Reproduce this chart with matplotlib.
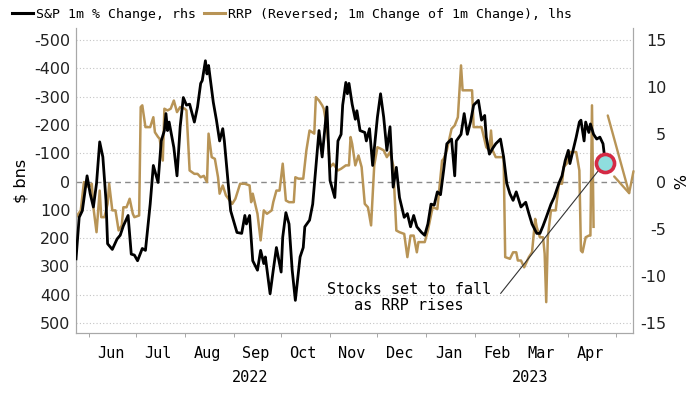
import pandas as pd
import matplotlib.pyplot as plt
import matplotlib.dates as mdates
from matplotlib.lines import Line2D

plt.rcParams['axes.unicode_minus'] = False

# S&P 500 1m % change (rhs)
spx_dates = [
    "2022-05-24", "2022-05-26", "2022-05-28", "2022-05-31", "2022-06-02", "2022-06-04",
    "2022-06-06", "2022-06-08", "2022-06-10", "2022-06-12", "2022-06-13", "2022-06-16",
    "2022-06-19", "2022-06-21", "2022-06-23", "2022-06-26", "2022-06-28", "2022-06-30",
    "2022-07-02", "2022-07-05", "2022-07-07", "2022-07-10", "2022-07-12", "2022-07-15",
    "2022-07-17", "2022-07-19", "2022-07-20", "2022-07-21", "2022-07-22", "2022-07-25",
    "2022-07-27", "2022-07-29", "2022-07-31", "2022-08-02", "2022-08-04", "2022-08-07",
    "2022-08-09", "2022-08-11", "2022-08-12", "2022-08-14", "2022-08-15", "2022-08-16",
    "2022-08-19", "2022-08-21", "2022-08-23", "2022-08-25", "2022-08-26", "2022-08-30",
    "2022-09-03", "2022-09-06", "2022-09-08", "2022-09-09", "2022-09-11", "2022-09-13",
    "2022-09-16", "2022-09-18", "2022-09-20", "2022-09-21", "2022-09-24", "2022-09-26",
    "2022-09-28", "2022-10-01", "2022-10-02", "2022-10-04", "2022-10-06", "2022-10-08",
    "2022-10-10", "2022-10-13", "2022-10-15", "2022-10-16", "2022-10-19", "2022-10-21",
    "2022-10-23", "2022-10-25", "2022-10-27", "2022-10-30", "2022-11-01", "2022-11-04",
    "2022-11-06", "2022-11-08", "2022-11-09", "2022-11-11", "2022-11-12", "2022-11-13",
    "2022-11-15", "2022-11-17", "2022-11-18", "2022-11-20", "2022-11-23", "2022-11-24",
    "2022-11-26", "2022-11-28", "2022-12-01", "2022-12-03", "2022-12-05", "2022-12-07",
    "2022-12-09", "2022-12-11", "2022-12-13", "2022-12-15", "2022-12-18", "2022-12-20",
    "2022-12-22", "2022-12-24", "2022-12-26", "2022-12-29", "2022-12-31", "2023-01-02",
    "2023-01-04", "2023-01-06", "2023-01-08", "2023-01-10", "2023-01-12", "2023-01-14",
    "2023-01-17", "2023-01-19", "2023-01-20", "2023-01-23", "2023-01-25", "2023-01-27",
    "2023-01-29", "2023-01-31", "2023-02-03", "2023-02-05", "2023-02-07", "2023-02-08",
    "2023-02-10", "2023-02-12", "2023-02-14", "2023-02-17", "2023-02-19", "2023-02-21",
    "2023-02-23", "2023-02-25", "2023-02-27", "2023-03-02", "2023-03-05", "2023-03-07",
    "2023-03-09", "2023-03-12", "2023-03-14", "2023-03-16", "2023-03-18", "2023-03-21",
    "2023-03-23", "2023-03-26", "2023-03-28", "2023-03-30", "2023-04-01", "2023-04-02",
    "2023-04-04", "2023-04-06", "2023-04-08", "2023-04-09", "2023-04-11", "2023-04-12",
    "2023-04-14", "2023-04-15", "2023-04-17", "2023-04-19", "2023-04-21", "2023-04-23",
    "2023-04-24", "2023-04-25",
]
spx_pct = [
    -8.2, -3.8, -3.1, 0.6, -1.3, -2.7,
    -0.2, 4.2, 2.6, -2.0, -6.6, -7.2,
    -6.1, -5.7, -4.7, -3.6, -7.7, -7.8,
    -8.4, -7.1, -7.3, -2.4, 1.7, -0.1,
    4.3, 5.4, 7.2, 5.4, 6.3, 3.6,
    0.6, 5.8, 8.9, 8.1, 8.2, 6.3,
    7.9, 10.4, 10.7, 12.8, 11.4, 12.3,
    8.4, 6.5, 4.3, 5.6, 4.3, -3.1,
    -5.4, -5.5, -3.6, -4.5, -3.6, -8.4,
    -9.4, -7.3, -8.7, -8.0, -11.9, -9.4,
    -7.0, -9.6, -5.9, -3.3, -4.5, -9.4,
    -12.6, -8.0, -7.0, -4.8, -4.1, -2.4,
    1.5, 5.4, 2.6, 7.9, 0.1, -1.7,
    4.3, 5.0, 8.1, 10.5, 9.3, 10.4,
    8.2, 6.6, 7.5, 5.4, 5.2, 4.3,
    5.6, 1.7, 6.8, 9.3, 6.8, 3.3,
    5.8, -0.6, 1.5, -1.7, -3.8, -3.4,
    -4.8, -3.6, -4.8, -5.4, -5.7, -4.5,
    -2.4, -2.5, -1.1, -1.4, 1.2, 4.0,
    4.5, 0.6, 4.3, 5.0, 7.2, 5.0,
    6.3, 8.1, 8.6, 6.5, 7.0, 4.7,
    2.9, 3.5, 4.0, 4.5, 2.6, -0.2,
    -1.3, -2.0, -1.1, -2.7, -2.2, -3.4,
    -4.5, -5.5, -5.5, -4.7, -3.8, -2.4,
    -1.7, -0.2, 0.6, 2.2, 3.3, 1.9,
    3.3, 4.7, 6.3, 6.5, 4.3, 6.3,
    5.2, 6.1, 5.0, 4.5, 4.7, 4.0,
    2.6, 2.2,
]

# RRP (reversed; 1m change of 1m change), $ bn (lhs)
rrp_dates = [
    "2022-05-24", "2022-05-27", "2022-05-29", "2022-06-01", "2022-06-03", "2022-06-04",
    "2022-06-06", "2022-06-08", "2022-06-09", "2022-06-11", "2022-06-13", "2022-06-14",
    "2022-06-16", "2022-06-18", "2022-06-20", "2022-06-22", "2022-06-23", "2022-06-25",
    "2022-06-27", "2022-06-29", "2022-06-30", "2022-07-03", "2022-07-04", "2022-07-05",
    "2022-07-07", "2022-07-10", "2022-07-12", "2022-07-13", "2022-07-15", "2022-07-16",
    "2022-07-18", "2022-07-19", "2022-07-21", "2022-07-23", "2022-07-25", "2022-07-27",
    "2022-07-29", "2022-08-01", "2022-08-02", "2022-08-04", "2022-08-07", "2022-08-09",
    "2022-08-11", "2022-08-13", "2022-08-15", "2022-08-16", "2022-08-18", "2022-08-20",
    "2022-08-22", "2022-08-23", "2022-08-25", "2022-08-27", "2022-08-31", "2022-09-02",
    "2022-09-05", "2022-09-08", "2022-09-11", "2022-09-12", "2022-09-13", "2022-09-15",
    "2022-09-16", "2022-09-18", "2022-09-20", "2022-09-22", "2022-09-25", "2022-09-26",
    "2022-09-28", "2022-09-30", "2022-10-02", "2022-10-04", "2022-10-06", "2022-10-09",
    "2022-10-10", "2022-10-12", "2022-10-15", "2022-10-17", "2022-10-19", "2022-10-22",
    "2022-10-23", "2022-10-25", "2022-10-27", "2022-10-28", "2022-10-30", "2022-11-01",
    "2022-11-03", "2022-11-06", "2022-11-08", "2022-11-11", "2022-11-13", "2022-11-14",
    "2022-11-15", "2022-11-17", "2022-11-19", "2022-11-21", "2022-11-23", "2022-11-25",
    "2022-11-27", "2022-11-29", "2022-12-01", "2022-12-03", "2022-12-05", "2022-12-07",
    "2022-12-09", "2022-12-11", "2022-12-13", "2022-12-15", "2022-12-18", "2022-12-20",
    "2022-12-22", "2022-12-24", "2022-12-26", "2022-12-27", "2022-12-31", "2023-01-02",
    "2023-01-05", "2023-01-08", "2023-01-11", "2023-01-12", "2023-01-14", "2023-01-17",
    "2023-01-19", "2023-01-21", "2023-01-23", "2023-01-24", "2023-01-30", "2023-01-31",
    "2023-02-05", "2023-02-07", "2023-02-08", "2023-02-10", "2023-02-11", "2023-02-12",
    "2023-02-14", "2023-02-19", "2023-02-20", "2023-02-23", "2023-02-25", "2023-02-27",
    "2023-02-28", "2023-03-02", "2023-03-04", "2023-03-07", "2023-03-09", "2023-03-11",
    "2023-03-12", "2023-03-14", "2023-03-16", "2023-03-17", "2023-03-18", "2023-03-19",
    "2023-03-21", "2023-03-24", "2023-03-26", "2023-03-28", "2023-03-29", "2023-03-31",
    "2023-04-02", "2023-04-06", "2023-04-08", "2023-04-09", "2023-04-10", "2023-04-12",
    "2023-04-14", "2023-04-15", "2023-04-16", "2023-04-17",
]
rrp_bn = [
    126, 102, 2, 20, 8, 91,
    179, 32, 126, 126, 79, 8,
    102, 102, 173, 155, 91, 91,
    61, 114, 126, 120, -263, -269,
    -192, -192, -227, -174, -157, -151,
    -74, -257, -251, -257, -286, -245,
    -263, -257, -251, -39, -27, -27,
    -15, -20, 2, -169, -86, -80,
    -15, 43, 14, 49, 79, 61,
    8, 8, 14, 73, 43, 91,
    114, 208, 102, 114, 102, 73,
    32, 32, -63, 67, 73, 73,
    -15, -10, -10, -110, -180, -169,
    -298, -286, -269, -257, -192, -51,
    -63, -39, -45, -57, -57, -157,
    -133, -57, -92, -51, 79, 91,
    155, -57, -121, -116, -110, -86,
    -104, -57, 173, 179, 185, 267,
    191, 191, 250, 214, 214, 173,
    91, 97, -74, -80, -110, -186,
    -198, -227, -410, -322, -322, -192,
    -192, -145, -121, -110, -180, -110,
    -86, -86, 267, 273, 250, 250,
    279, 279, 303, 267, 250, 132,
    161, 197, 197, 255, 426, 197,
    102, 102, 8, 8, -51, -63,
    -104, -104, -39, 244, 250, 197,
    191, 191, -269, 160,
]

spx = pd.Series(spx_pct, index=pd.to_datetime(spx_dates))
rrp = pd.Series(rrp_bn, index=pd.to_datetime(rrp_dates))

tan = "#b89456"
mono = "DejaVu Sans Mono"

fig = plt.figure(figsize=(7, 3.94), dpi=100)
ax = fig.add_axes([0.1086, 0.1548, 0.7957, 0.7741])
ax2 = ax.twinx()

# lhs: RRP, reversed axis
ax.plot(rrp.index, rrp.values, color=tan, lw=1.8, zorder=3)
ax.set_ylim(535, -542)
ax.set_yticks(range(-500, 501, 100))
ax.set_yticklabels([str(v) for v in range(-500, 501, 100)])
for v in range(-500, 501, 100):
    if v == 0:
        ax.axhline(v, color="#8a8a8a", lw=1.0, ls=(0, (4, 3)), zorder=1)
    else:
        ax.axhline(v, color="#c4c4c4", lw=0.8, ls=(0, (1, 2)), zorder=1)
ax.set_ylabel("$ bns", fontsize=11.5, labelpad=4)

# rhs: S&P
ax2.plot(spx.index, spx.values, color="black", lw=2.0, zorder=4)
ax2.set_ylim(-16.06, 16.27)
ax2.set_yticks(range(-15, 16, 5))
fig.text(0.966, 0.54, "%", rotation=270, fontsize=11.5, ha="center", va="center")

start = pd.Timestamp("2022-05-24")
end = pd.Timestamp("2023-05-12")
ax.set_xlim(start, end)

# month labels centred in the month, small ticks at month starts
ax.xaxis.set_major_locator(mdates.MonthLocator(bymonthday=15))
ax.xaxis.set_major_formatter(mdates.DateFormatter("%b"))
ax.xaxis.set_minor_locator(mdates.MonthLocator(bymonthday=1))
ax.tick_params(axis="x", which="major", length=0, pad=9, labelsize=11)
ax.tick_params(axis="x", which="minor", length=3, color="#9a9a9a")
for lab in ax.get_xticklabels():
    lab.set_fontfamily(mono)

ax.tick_params(axis="y", length=0, pad=4, labelsize=11.5, labelcolor="#222222")
ax2.tick_params(axis="y", length=0, pad=24, labelsize=11.5, labelcolor="#222222")
for lab in ax2.get_yticklabels():
    lab.set_ha("right")

# year labels under the months of each year
mid22 = start + (pd.Timestamp("2022-12-31") - start) / 2
mid23 = pd.Timestamp("2023-01-01") + (end - pd.Timestamp("2023-01-01")) / 2
trans = ax.get_xaxis_transform()
ax.text(mid22, -0.145, "2022", transform=trans, ha="center", va="center", fontsize=11, family=mono)
ax.text(mid23, -0.145, "2023", transform=trans, ha="center", va="center", fontsize=11, family=mono)

for a in (ax, ax2):
    a.spines["top"].set_visible(False)
    for s in ("left", "right", "bottom"):
        a.spines[s].set_color("#a8a8a8")

# annotations
ax2.annotate("", xy=(pd.Timestamp("2023-05-10"), -1.5), xytext=(pd.Timestamp("2023-04-26"), 7.0),
             arrowprops=dict(arrowstyle="->, head_length=1.2, head_width=0.6", color=tan, lw=1.7,
                             mutation_scale=12, shrinkA=0, shrinkB=0),
             annotation_clip=False, zorder=7)
ax2.annotate("", xy=(pd.Timestamp("2023-04-21"), 1.35), xytext=(pd.Timestamp("2023-02-16"), -12.1),
             arrowprops=dict(arrowstyle="-", color="#333333", lw=0.8), zorder=5)
ax2.scatter([pd.Timestamp("2023-04-24")], [2.0], s=170, facecolor="#8fdede",
            edgecolor="#d42a45", linewidth=2.6, zorder=6)
ax2.text(pd.Timestamp("2022-12-21"), -12.3, "Stocks set to fall\nas RRP rises", ha="center",
         va="center", fontsize=11, family=mono, linespacing=1.1, zorder=6)

handles = [Line2D([], [], color="black", lw=2.2), Line2D([], [], color=tan, lw=2.2)]
labels = ["S&P 1m % Change, rhs", "RRP (Reversed; 1m Change of 1m Change), lhs"]
fig.legend(handles, labels, loc="upper left", bbox_to_anchor=(0.006, 1.0), ncol=2, frameon=False,
           prop={"family": mono, "size": 9.5}, handlelength=1.6, handletextpad=0.2,
           columnspacing=0.6, borderaxespad=0.2)

fig.savefig("out.png", dpi=100)
